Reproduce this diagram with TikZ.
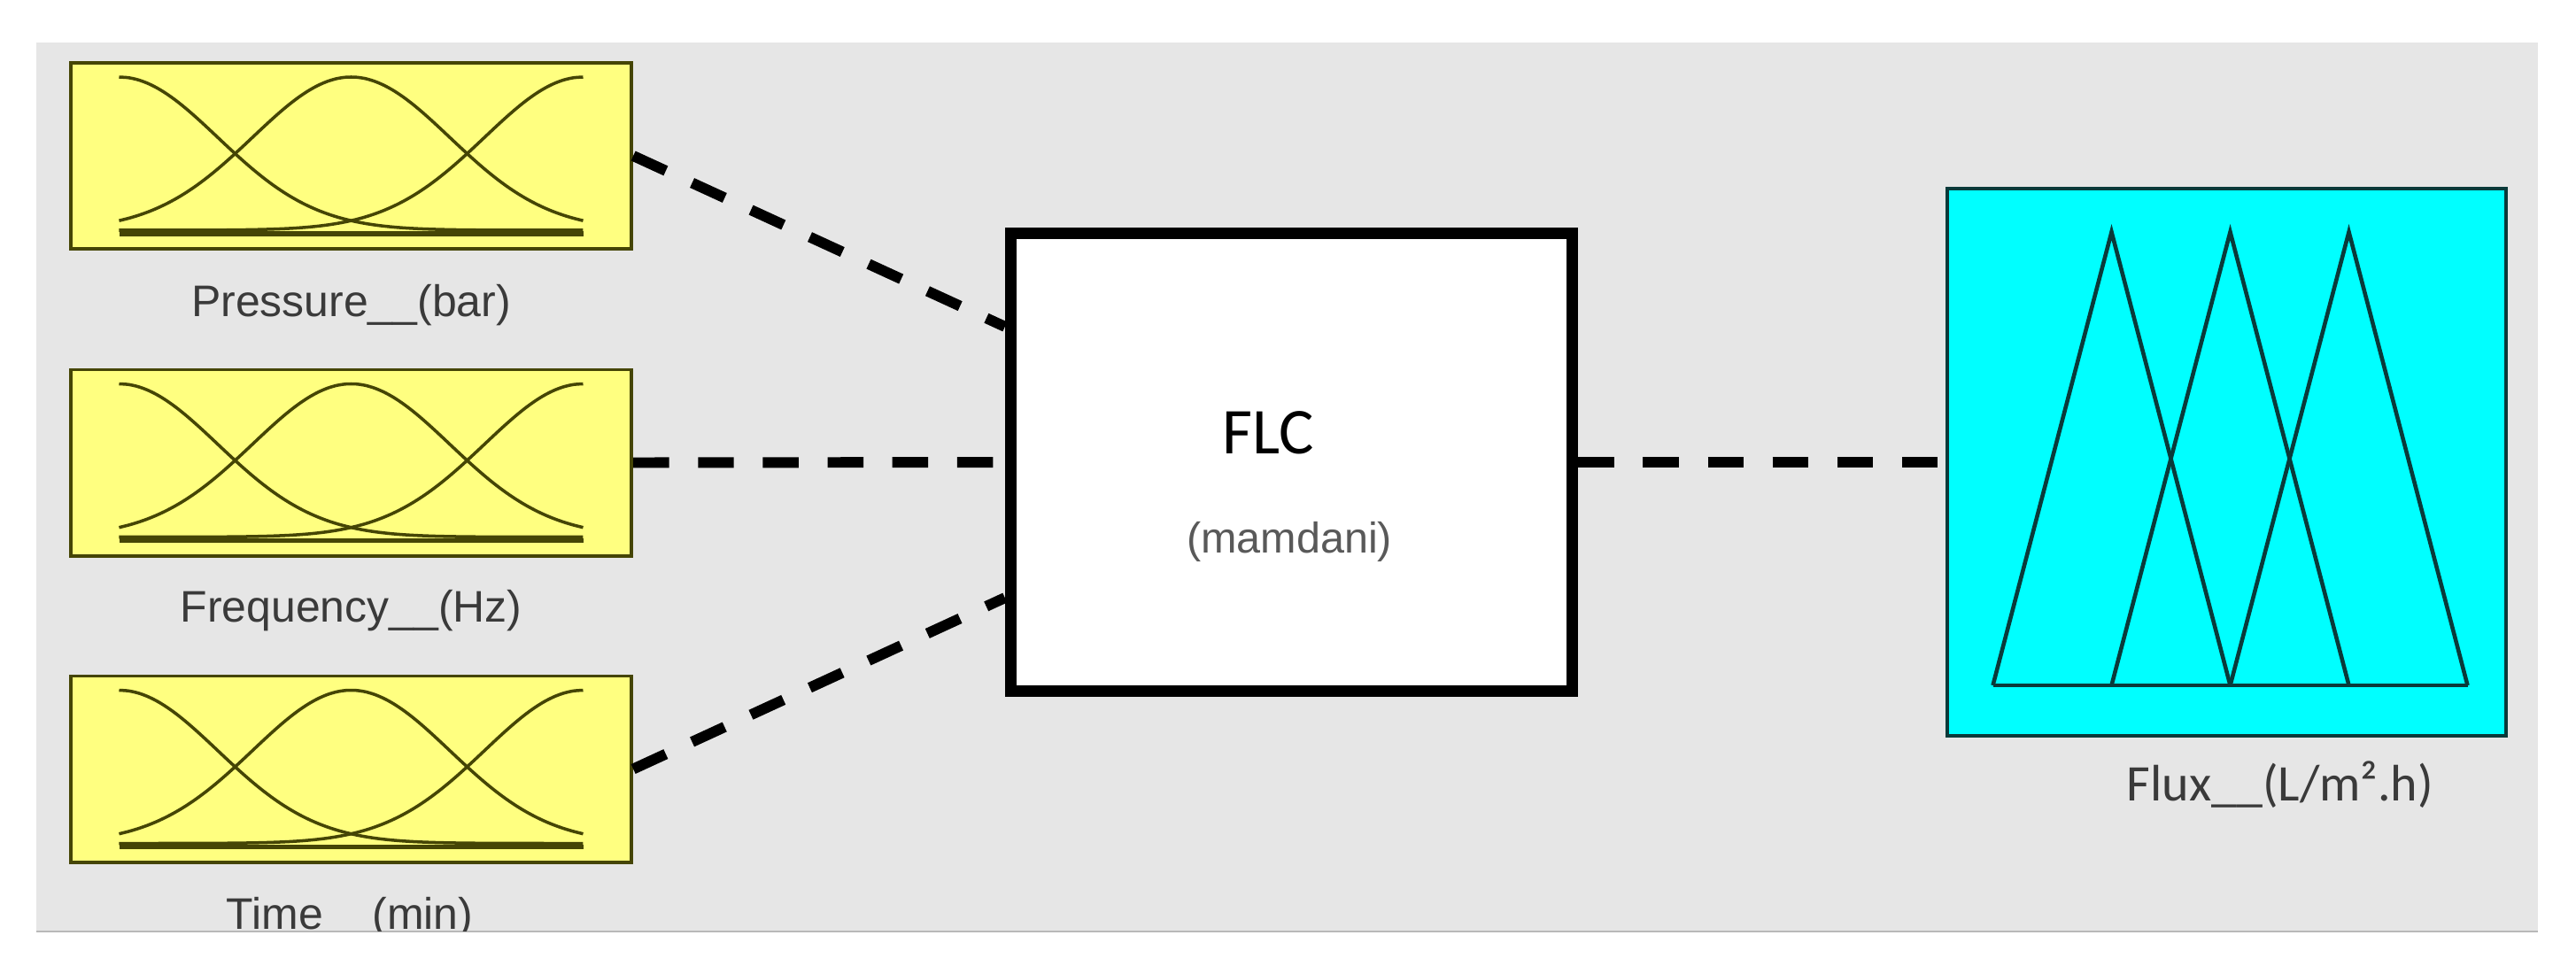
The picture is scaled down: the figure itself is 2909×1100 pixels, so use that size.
\documentclass[tikz,border=0pt]{standalone}
\usepackage{fontspec}
\setmainfont{Liberation Sans}
\newfontfamily\flcfont{Carlito}
\usetikzlibrary{positioning}
\definecolor{panelgray}{HTML}{E6E6E6}
\definecolor{mfyellow}{HTML}{FFFF80}
\definecolor{mfolive}{HTML}{454505}
\definecolor{mfcyan}{HTML}{00FFFF}
\definecolor{mfteal}{HTML}{0A3A3A}
\definecolor{lbltext}{HTML}{3A3A3A}

\begin{document}
\begin{tikzpicture}[x=0.01cm, y=-0.01cm,
  inbox/.style={rectangle, draw=mfolive, fill=mfyellow, line width=1.1pt,
                minimum width=6.33cm, minimum height=2.10cm, inner sep=0pt},
  outbox/.style={rectangle, draw=mfteal, fill=mfcyan, line width=1.2pt,
                 minimum width=6.31cm, minimum height=6.18cm, inner sep=0pt},
  flcbox/.style={rectangle, draw=black, fill=white, line width=3.7pt,
                 minimum width=6.34cm, minimum height=5.17cm, inner sep=0pt},
  varlbl/.style={font=\fontsize{14.2}{16}\selectfont, text=lbltext,
                 anchor=base, inner sep=0pt},
  mfcurve/.style={mfolive, line width=1pt},
  trimf/.style={mfteal, line width=1.3pt},
  conn/.style={line width=3.4pt, dash pattern=on 11.5pt off 9.3pt}
]
\useasboundingbox (0,0) rectangle (2909,1100);
\fill[white] (0,0) rectangle (2909,1100);
\fill[panelgray] (41,48) rectangle (2866,1053);
\draw[gray!55, line width=0.6pt] (41,1052) -- (2866,1052);

\node[inbox] (press) at (396.5,176) {};
\node[inbox] (freq)  at (396.5,522.5) {};
\node[inbox] (time)  at (396.5,868.5) {};
\node[flcbox] (flc)  at (1458.5,522) {};
\node[outbox] (flux) at (2514.5,522) {};

% gaussian membership functions
\foreach \v in {press,freq,time} {
  \begin{scope}[shift={(\v.center)}]
    \foreach \m in {-2.355,0,2.355}
      \draw[mfcurve] plot[domain=-2.355:2.355, samples=50, smooth]
        ({\x*111.26}, {84-173*exp(-0.5*(\x-(\m))*(\x-(\m)))});
    \draw[mfcurve, line width=1.5pt] (-262,88) -- (262,88);
  \end{scope}
}

% triangular output functions
\begin{scope}[shift={(flux.center)}]
  \foreach \c in {-130,4,138}
    \draw[trimf] (\c-134,252) -- (\c,-260) -- (\c+134,252);
  \draw[trimf] (-264,252) -- (272,252);
\end{scope}

\node[varlbl] (presslbl) at (396.5,357) {Pressure\_\_(bar)};
\node[varlbl] (freqlbl)  at (396.5,702) {Frequency\_\_(Hz)};
\begin{scope}
  \clip (41,48) rectangle (2866,1051);
  \node[varlbl] (timelbl) at (395,1049) {Time\_\_(min)};
\end{scope}

\node[font=\flcfont\fontsize{21}{25}\selectfont, anchor=base] (flcname)
     at (1432,512) {FLC};
\node[font=\fontsize{13.8}{16}\selectfont, text=black!65, anchor=base] (flctype)
     at (1456,624) {(mamdani)};
\node[font=\flcfont\fontsize{16.5}{20}\selectfont, text=lbltext, anchor=base]
     (fluxlbl) at (2575,904) {Flux\_\_(L/m².h)};

\draw[conn] (press.east) -- ([yshift=1.53cm]flc.west);
\draw[conn] (freq.east) -- (flc.west);
\draw[conn] (time.east) -- ([yshift=-1.53cm]flc.west);
\draw[conn] (flc.east) -- (flux.west);
\end{tikzpicture}
\end{document}
